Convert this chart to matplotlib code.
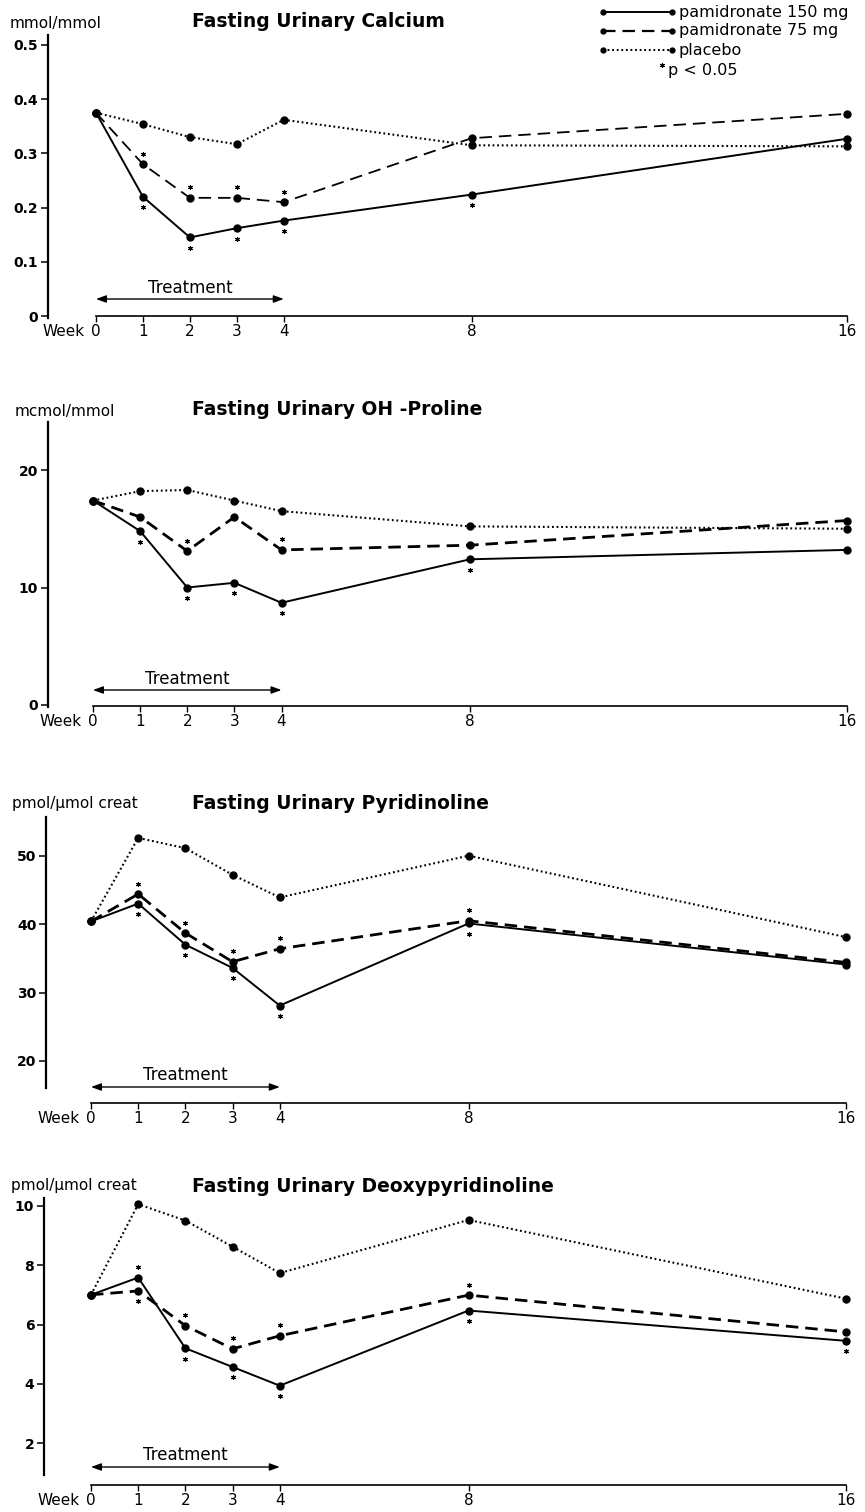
import matplotlib
matplotlib.use('Agg')
import matplotlib.pyplot as plt
import matplotlib.transforms as mtransforms
from matplotlib.lines import Line2D

plt.rcParams['font.family'] = ['DejaVu Sans']
plt.rcParams['lines.scale_dashes'] = False

W, H = 865, 1512

# ---------------- data ----------------
weeks = [0, 1, 2, 3, 4, 8, 16]
week_labels = ['0', '1', '2', '3', '4', '8', '16']
series_names = ['pamidronate 150 mg', 'pamidronate 75 mg', 'placebo']

ca_150 = [0.375, 0.220, 0.145, 0.162, 0.176, 0.224, 0.327]
ca_75 = [0.375, 0.280, 0.218, 0.218, 0.210, 0.328, 0.373]
ca_pl = [0.375, 0.354, 0.330, 0.317, 0.362, 0.315, 0.313]

oh_150 = [17.4, 14.8, 10.0, 10.4, 8.7, 12.4, 13.2]
oh_75 = [17.4, 16.0, 13.1, 16.0, 13.2, 13.6, 15.7]
oh_pl = [17.4, 18.2, 18.3, 17.4, 16.5, 15.2, 15.0]

pyr_150 = [40.4, 43.0, 37.0, 33.6, 28.1, 40.1, 34.1]
pyr_75 = [40.4, 44.4, 38.7, 34.5, 36.4, 40.5, 34.4]
pyr_pl = [40.4, 52.6, 51.1, 47.2, 43.9, 50.0, 38.1]

dpd_150 = [7.0, 7.58, 5.20, 4.57, 3.94, 6.47, 5.45]
dpd_75 = [7.0, 7.13, 5.96, 5.18, 5.62, 6.99, 5.75]
dpd_pl = [7.0, 10.05, 9.50, 8.62, 7.73, 9.52, 6.87]

# significance flags (p<0.05): 1 = star above point, -1 = star below, 0 = none
sig_ca_150 = [0, -1, -1, -1, -1, -1, 0]
sig_ca_75 = [0, 1, 1, 1, 1, 0, 0]
sig_oh_150 = [0, -1, -1, -1, -1, -1, 0]
sig_oh_75 = [0, 0, 1, 0, 1, 0, 0]
sig_pyr_150 = [0, -1, -1, -1, -1, -1, 0]
sig_pyr_75 = [0, 1, 1, 1, 1, 1, 0]
sig_dpd_150 = [0, 1, -1, -1, -1, -1, -1]
sig_dpd_75 = [0, -1, 1, 1, 1, 1, 0]
sig_none = [0, 0, 0, 0, 0, 0, 0]

titles = ['Fasting Urinary Calcium', 'Fasting Urinary OH -Proline',
          'Fasting Urinary Pyridinoline', 'Fasting Urinary Deoxypyridinoline']
units = ['mmol/mmol', 'mcmol/mmol', 'pmol/\u00b5mol creat', 'pmol/\u00b5mol creat']
yticks_list = [[0, 0.1, 0.2, 0.3, 0.4, 0.5], [0, 10, 20], [20, 30, 40, 50], [2, 4, 6, 8, 10]]
yticklabels_list = [['0', '0.1', '0.2', '0.3', '0.4', '0.5'], ['0', '10', '20'],
                    ['20', '30', '40', '50'], ['2', '4', '6', '8', '10']]
panel_data = [(ca_150, ca_75, ca_pl), (oh_150, oh_75, oh_pl),
              (pyr_150, pyr_75, pyr_pl), (dpd_150, dpd_75, dpd_pl)]
panel_sig = [(sig_ca_150, sig_ca_75, sig_none), (sig_oh_150, sig_oh_75, sig_none),
             (sig_pyr_150, sig_pyr_75, sig_none), (sig_dpd_150, sig_dpd_75, sig_none)]

# ---------------- layout (pixel calibration) ----------------
layout = [
    dict(ycal=((0.5, 45), (0.0, 316)), top=35, bot=318, xaxis=316, x0=96, x16=847, sx=48,
         title_y=27, unit_x=10, unit_y=28, treat_y=288, arrow_y=299, dash_lw=1.3),
    dict(ycal=((20, 470), (0, 705)), top=422, bot=707, xaxis=706, x0=93, x16=847, sx=48,
         title_y=415, unit_x=15, unit_y=416, treat_y=679, arrow_y=690, dash_lw=2.0),
    dict(ycal=((50, 855.7), (20, 1061)), top=817, bot=1088, xaxis=1103, x0=91, x16=846, sx=46,
         title_y=809, unit_x=12, unit_y=808, treat_y=1075, arrow_y=1087, dash_lw=2.0),
    dict(ycal=((10, 1205.7), (2, 1443.3)), top=1198, bot=1475, xaxis=1485, x0=91, x16=846, sx=44,
         title_y=1192, unit_x=11, unit_y=1190, treat_y=1455, arrow_y=1467, dash_lw=2.0),
]

fig = plt.figure(figsize=(W / 100, H / 100), dpi=100)


def fx(px):
    return px / W


def fy(py):
    return 1 - py / H


styles = [dict(ls='-', lw=1.4), dict(ls=(0, (9, 5)), lw=None), dict(ls=(0, (1.3, 2.0)), lw=1.5)]

for i in range(4):
    L = layout[i]
    (v1, p1), (v2, p2) = L['ycal']
    slope = (v1 - v2) / (p2 - p1)

    def val(p, v1=v1, p1=p1, slope=slope):
        return v1 + (p1 - p) * slope

    right_px = 862
    ax_bot_px = max(L['bot'], L['xaxis']) + 1
    ax = fig.add_axes([fx(L['sx']), fy(ax_bot_px), fx(right_px) - fx(L['sx']),
                       fy(L['top']) - fy(ax_bot_px)])
    pxw = (L['x16'] - L['x0']) / 16.0
    ax.set_xlim((L['sx'] - L['x0']) / pxw, 16 + (right_px - L['x16']) / pxw)
    ax.set_ylim(val(ax_bot_px), val(L['top']))
    ax.patch.set_visible(False)

    for s in ['top', 'right']:
        ax.spines[s].set_visible(False)
    ax.spines['left'].set_bounds(val(L['bot']), val(L['top']))
    ax.spines['left'].set_linewidth(1.6)
    ax.spines['bottom'].set_position(('data', val(L['xaxis'])))
    ax.spines['bottom'].set_bounds(0, 16)
    ax.spines['bottom'].set_linewidth(1.2)

    ax.set_yticks(yticks_list[i])
    ax.set_yticklabels(yticklabels_list[i], fontsize=10, fontweight='bold')
    ax.tick_params(axis='y', direction='out', length=5, width=1.1, pad=2)
    ax.set_xticks(weeks)
    ax.set_xticklabels(week_labels, fontsize=11)
    ax.tick_params(axis='x', direction='out', length=4, width=1.0, pad=2)
    ax.annotate('Week', xy=(0, val(L['xaxis'])), xycoords='data', xytext=(-8, -6),
                textcoords='offset points', ha='right', va='top', fontsize=11)

    data = panel_data[i]
    sigs = panel_sig[i]
    for k in [2, 1, 0]:
        st = styles[k]
        lw = L['dash_lw'] if k == 1 else st['lw']
        ax.plot(weeks, data[k], color='black', linestyle=st['ls'], linewidth=lw,
                marker='o', markersize=5, clip_on=False, zorder=3)
        for sgn in (1, -1):
            xs = [w for w, f, v in zip(weeks, sigs[k], data[k]) if f == sgn]
            ys = [v for w, f, v in zip(weeks, sigs[k], data[k]) if f == sgn]
            if xs:
                tr = mtransforms.offset_copy(ax.transData, fig=fig, x=0, y=sgn * 7.5, units='points')
                ax.plot(xs, ys, linestyle='none', marker=(6, 2, 0), markersize=3.5,
                        markeredgewidth=0.8, color='black', transform=tr, clip_on=False)

    # treatment arrow
    btr = mtransforms.blended_transform_factory(ax.transData, fig.transFigure)
    ax.text(2, fy(L['treat_y']), 'Treatment', transform=btr, ha='center', va='center', fontsize=12)
    ax.annotate('', xy=(4, fy(L['arrow_y'])), xycoords=btr, xytext=(0, fy(L['arrow_y'])),
                textcoords=btr,
                arrowprops=dict(arrowstyle='<|-|>,head_length=0.6,head_width=0.22',
                                color='black', lw=1.0, shrinkA=0, shrinkB=0))

    fig.text(fx(192), fy(L['title_y']), titles[i], ha='left', va='baseline',
             fontsize=13.5, fontweight='bold')
    fig.text(fx(L['unit_x']), fy(L['unit_y']), units[i], ha='left', va='baseline', fontsize=11)

# ---------------- legend ----------------
leg_y = [12, 31, 50]
for k in range(3):
    st = styles[k]
    lw = 1.6 if k == 1 else st['lw']
    ln = Line2D([fx(603), fx(672)], [fy(leg_y[k]), fy(leg_y[k])], transform=fig.transFigure,
                color='black', linestyle=st['ls'], linewidth=lw, marker='o', markersize=3.5)
    fig.add_artist(ln)
    fig.text(fx(679), fy(leg_y[k]), series_names[k], ha='left', va='center', fontsize=11.5)
fig.add_artist(Line2D([fx(662)], [fy(65)], transform=fig.transFigure, linestyle='none',
                      marker=(6, 2, 0), markersize=3.5, markeredgewidth=0.8, color='black'))
fig.text(fx(668), fy(70), 'p < 0.05', ha='left', va='center', fontsize=11.5)

fig.savefig('out.png', dpi=100)
